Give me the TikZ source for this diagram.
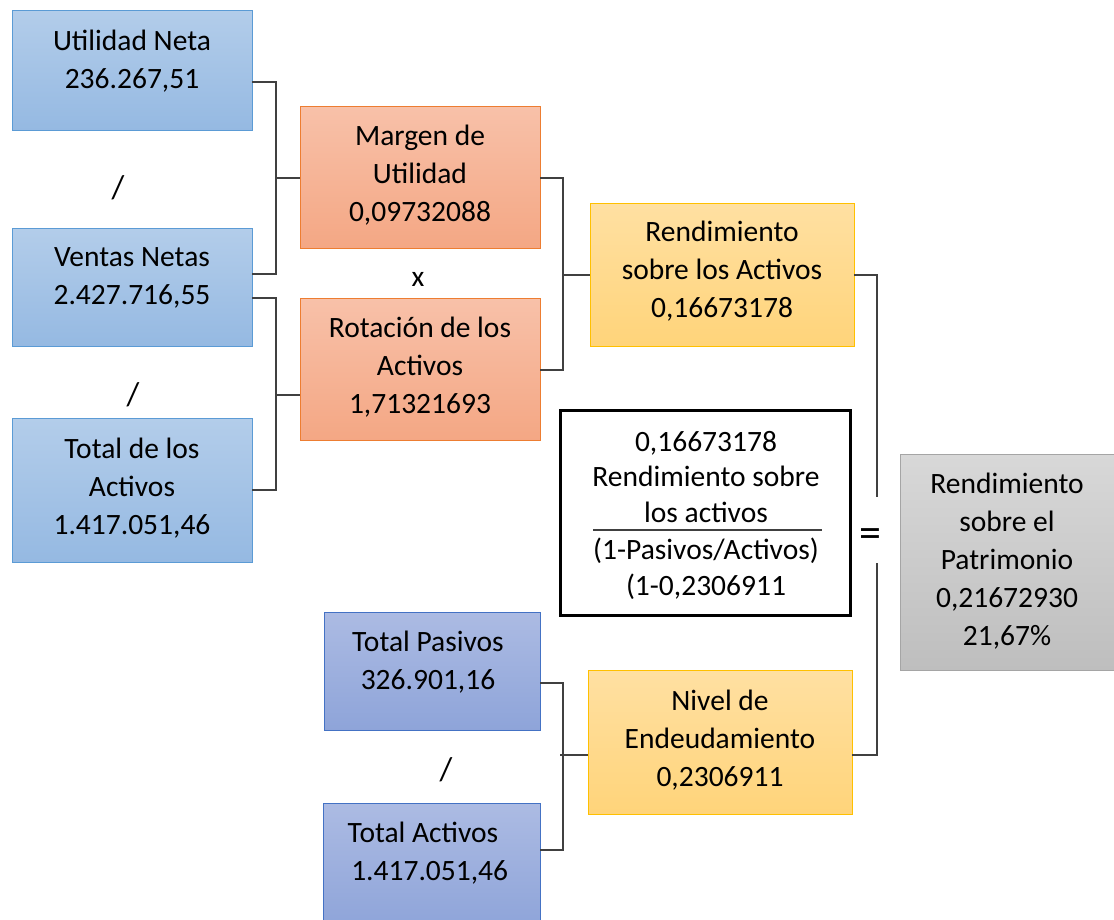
\documentclass[tikz,border=0pt]{standalone}
\usepackage{fontspec}
\setmainfont{Carlito}
\definecolor{blueT}{HTML}{B3CDEA}
\definecolor{blueM}{HTML}{95B9E2}
\definecolor{blueE}{HTML}{5B9BD5}
\definecolor{orT}{HTML}{F8C1A9}
\definecolor{orM}{HTML}{F4A784}
\definecolor{orE}{HTML}{ED7D31}
\definecolor{yeT}{HTML}{FFE0A2}
\definecolor{yeM}{HTML}{FFD47A}
\definecolor{yeE}{HTML}{FFC000}
\definecolor{grT}{HTML}{D8D8D8}
\definecolor{grM}{HTML}{BEBEBE}
\definecolor{grE}{HTML}{A5A5A5}
\definecolor{puT}{HTML}{ACBBE3}
\definecolor{puM}{HTML}{8EA4D9}
\definecolor{puE}{HTML}{4472C4}
\definecolor{lineC}{HTML}{404040}
\newcommand\fnt{\fontsize{29.5}{38}\selectfont}
\newcommand\fntf{\fontsize{29.5}{35.5}\selectfont}
\newcommand\fnts{\fontsize{33}{38}\selectfont}
\newcommand\fnteq{\fontsize{44}{44}\selectfont}
\begin{document}
\begin{tikzpicture}[x=1pt,y=-1pt,
  box/.style={line width=1pt, inner sep=0pt, outer sep=0pt, anchor=north west},
  bluebox/.style={box, draw=blueE, top color=blueT, bottom color=blueM},
  orbox/.style={box, draw=orE, top color=orT, bottom color=orM},
  yebox/.style={box, draw=yeE, top color=yeT, bottom color=yeM},
  grbox/.style={box, draw=grE, top color=grT, bottom color=grM},
  pubox/.style={box, draw=puE, top color=puT, bottom color=puM},
  txt/.style={anchor=north, align=center, inner sep=0pt, font=\fnt, execute at begin node=\strut},
  txtf/.style={anchor=north, align=center, inner sep=0pt, font=\fntf, execute at begin node=\strut},
  sym/.style={inner sep=0pt, font=\fnts},
  conn/.style={draw=lineC, line width=1.3pt}]
\useasboundingbox (0,0) rectangle (1114,919);
\fill[white] (0,0) rectangle (1114,919);
% boxes
\node[bluebox, minimum width=240pt, minimum height=120pt] (UN) at (12,10) {};
\node[bluebox, minimum width=240pt, minimum height=118pt] (VN) at (12,228) {};
\node[bluebox, minimum width=240pt, minimum height=144pt] (TA) at (12,418) {};
\node[orbox, minimum width=240pt, minimum height=142pt] (MU) at (300,106) {};
\node[orbox, minimum width=240pt, minimum height=142pt] (RA) at (300,298) {};
\node[yebox, minimum width=264pt, minimum height=143pt] (RSA) at (590,203) {};
\node[box, draw=black, line width=3pt, minimum width=290pt, minimum height=205pt] (F) at (560,410) {};
\node[grbox, minimum width=216pt, minimum height=216pt] (RSP) at (900,454) {};
\node[pubox, minimum width=216pt, minimum height=118pt] (TP) at (324,612) {};
\node[pubox, minimum width=217pt, minimum height=125pt] (TAc) at (323,803) {};
\node[yebox, minimum width=264pt, minimum height=144pt] (NE) at (588,670) {};
% texts
\node[txt] (UNt) at (132,30) {Utilidad Neta\\236.267,51};
\node[txt] (VNt) at (132,247) {Ventas Netas\\2.427.716,55};
\node[txt] (TAt) at (132,438) {Total de los\\Activos\\1.417.051,46};
\node[txt] (MUt) at (420,125) {Margen de\\Utilidad\\0,09732088};
\node[txt] (RAt) at (420,317) {Rotación de los\\Activos\\1,71321693};
\node[txt] (RSAt) at (722,221) {Rendimiento\\sobre los Activos\\0,16673178};
\node[txtf] (Fn) at (706,431) {0,16673178\\Rendimiento sobre\\los activos};
\node[txtf] (Fd) at (706,538) {(1-Pasivos/Activos)\\(1-0,2306911};
\node[txt] (RSPt) at (1007,473) {Rendimiento\\sobre el\\Patrimonio\\0,21672930\\21,67\%};
\node[txt] (TPt) at (428,631) {Total Pasivos\\326.901,16};
\node[txt] (TAct) at (423,822) {Total Activos\\\ \ 1.417.051,46};
\node[txt] (NEt) at (720,690) {Nivel de\\Endeudamiento\\0,2306911};
% fraction line
\coordinate (fl1) at (593,530);
\coordinate (fl2) at (822,530);
\draw[draw=lineC, line width=1.3pt] (fl1) -- (fl2);
% symbols
\node[sym] (s1) at (118,188) {/};
\node[sym] (s2) at (133,395) {/};
\node[sym, font=\fnt] (s3) at (418,279) {x};
\node[sym] (s4) at (446,770) {/};
\node[sym, font=\fnteq] (eq) at (870,538) {=};
% junctions
\coordinate (j1) at (276,178);
\coordinate (j2) at (276,395);
\coordinate (j3) at (563,275);
\coordinate (j4) at (877,497);
\coordinate (j5) at (877,563);
\coordinate (j6) at (560,755);
% connectors
\draw[conn] (UN.east |- 0,82) -- (276,82) -- (276,274) -- (VN.east |- 0,274);
\draw[conn] (j1) -- (MU.west |- j1);
\draw[conn] (VN.east |- 0,298) -- (276,298) -- (276,490) -- (TA.east |- 0,490);
\draw[conn] (j2) -- (RA.west |- j2);
\draw[conn] (MU.east |- 0,178) -- (563,178) -- (563,370) -- (RA.east |- 0,370);
\draw[conn] (j3) -- (RSA.west |- j3);
\draw[conn] (RSA.east |- 0,275) -- (877,275) -- (j4);
\draw[conn] (j5) -- (877,755) -- (NE.east |- 0,755);
\draw[conn] (TP.east |- 0,683) -- (563,683) -- (563,850) -- (TAc.east |- 0,850);
\draw[conn] (j6) -- (NE.west |- j6);
\end{tikzpicture}
\end{document}
